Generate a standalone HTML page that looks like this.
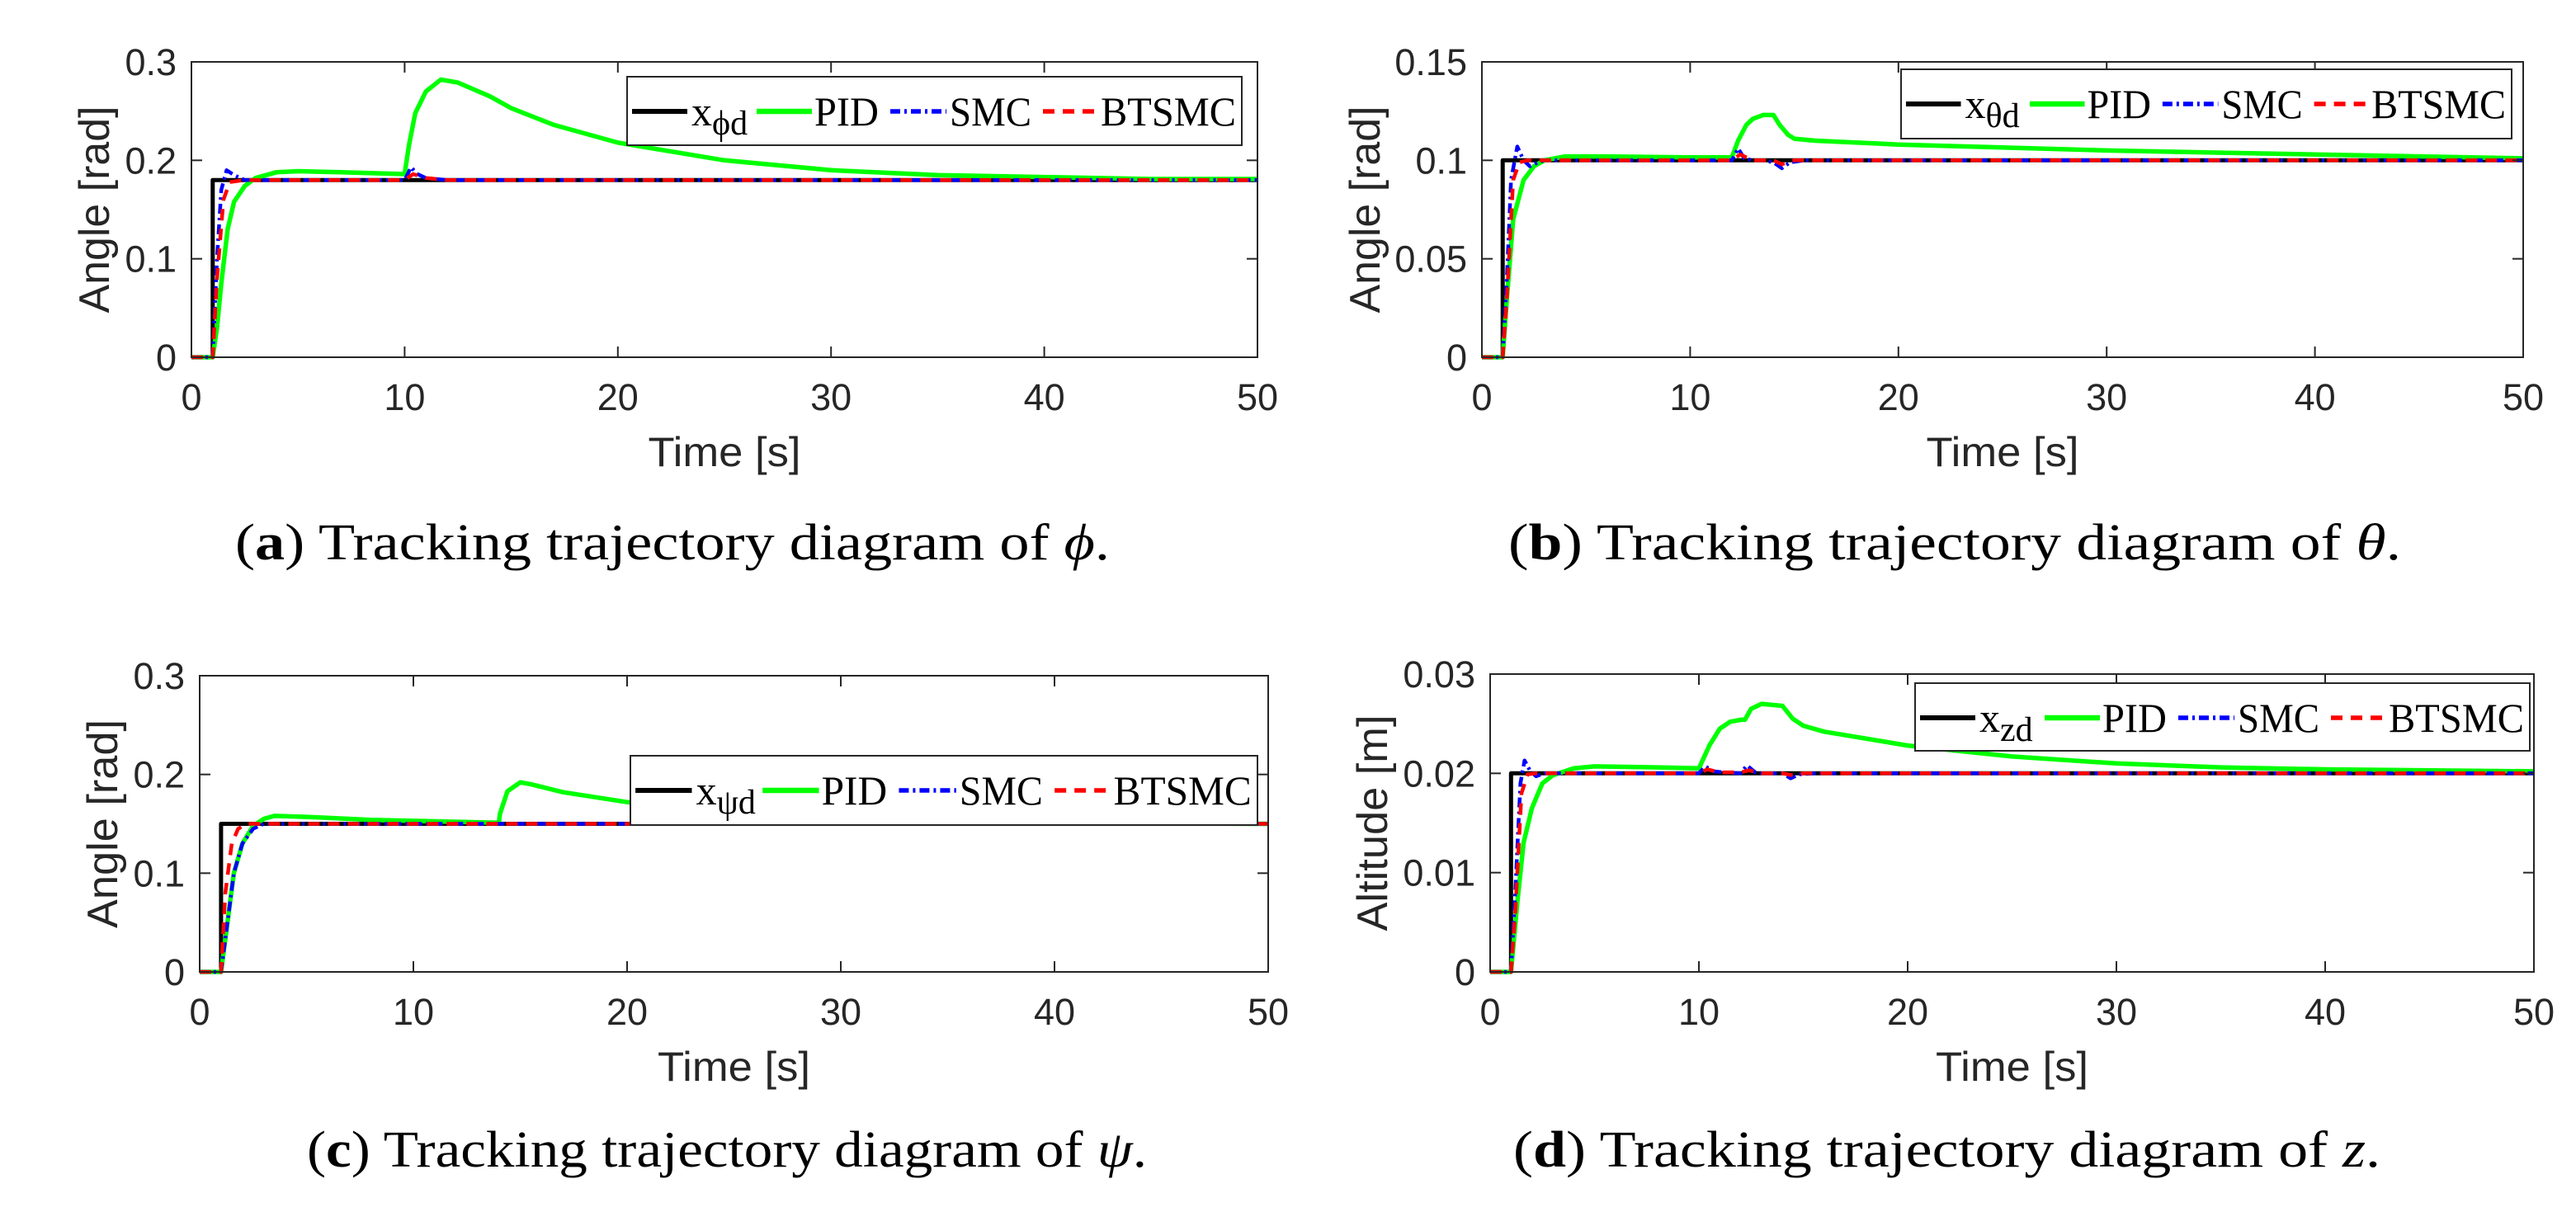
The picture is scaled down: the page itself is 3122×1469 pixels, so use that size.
<!DOCTYPE html>
<html><head><meta charset="utf-8"><style>
html,body{margin:0;padding:0;background:#fff;}
svg{display:block;}
</style></head><body>
<svg id="fig" xmlns="http://www.w3.org/2000/svg" width="3122" height="1469" viewBox="0 0 3122 1469"></svg>
<script>
// ---- data (time arrays and value arrays per panel/series) ----
const xTicks = [0,10,20,30,40,50];
const yTicksA = [0,0.1,0.2,0.3];
const yTicksB = [0,0.05,0.1,0.15];
const yTicksC = [0,0.1,0.2,0.3];
const yTicksD = [0,0.01,0.02,0.03];
const yTickLabelsA = ["0","0.1","0.2","0.3"];
const yTickLabelsB = ["0","0.05","0.1","0.15"];
const yTickLabelsC = ["0","0.1","0.2","0.3"];
const yTickLabelsD = ["0","0.01","0.02","0.03"];

const refTA = [0,1,1,50];            const refVA = [0,0,0.18,0.18];
const pidTA = [0,1,1.2,1.4,1.7,2,2.5,3,4,5,7,10,10.2,10.5,11,11.7,12.5,14,15,17,20,25,30,35,40,45,50];
const pidVA = [0,0,0.03,0.075,0.13,0.158,0.174,0.182,0.188,0.189,0.188,0.186,0.215,0.248,0.27,0.282,0.279,0.265,0.253,0.236,0.218,0.2,0.19,0.185,0.183,0.181,0.181];
const smcTA = [0,1,1.2,1.4,1.65,2,2.5,3,10,10.3,10.6,11,12,50];
const smcVA = [0,0,0.1,0.17,0.19,0.185,0.18,0.18,0.18,0.193,0.186,0.182,0.18,0.18];
const btTA = [0,1,1.2,1.5,1.8,2.5,10,10.4,11,12,50];
const btVA = [0,0,0.08,0.16,0.178,0.18,0.18,0.186,0.182,0.18,0.18];

const refTB = [0,1,1,50];            const refVB = [0,0,0.1,0.1];
const pidTB = [0,1,1.2,1.5,2,2.5,3,4,6,10,12,12.3,12.7,13,13.5,14,14.3,14.7,15,16,20,30,40,50];
const pidVB = [0,0,0.03,0.07,0.09,0.097,0.1,0.102,0.102,0.1015,0.1015,0.11,0.118,0.121,0.123,0.123,0.118,0.113,0.111,0.110,0.108,0.105,0.103,0.101];
const smcTB = [0,1,1.2,1.4,1.7,2,2.3,2.7,3,12,12.3,12.6,13,13.5,14,14.4,14.8,15.5,50];
const smcVB = [0,0,0.04,0.09,0.107,0.1,0.097,0.099,0.1,0.1,0.106,0.101,0.1,0.1,0.099,0.096,0.099,0.1,0.1];
const btTB = [0,1,1.2,1.5,1.8,2.2,12,12.4,13,14,14.4,15,50];
const btVB = [0,0,0.03,0.09,0.099,0.1,0.1,0.103,0.1,0.1,0.098,0.1,0.1];

const refTC = [0,1,1,50];            const refVC = [0,0,0.15,0.15];
const pidTC = [0,1,1.3,1.6,2,2.5,3,3.5,5,8,10,14,14.05,14.4,15,15.5,17,20,25,30,35,40,50];
const pidVC = [0,0,0.05,0.1,0.13,0.148,0.155,0.158,0.157,0.154,0.153,0.151,0.16,0.183,0.192,0.19,0.182,0.172,0.161,0.155,0.152,0.151,0.15];
const smcTC = [0,1,1.3,1.6,2,2.5,3,50];
const smcVC = [0,0,0.05,0.1,0.13,0.145,0.15,0.15];
const btTC = [0,1,1.2,1.5,1.8,2.2,50];
const btVC = [0,0,0.08,0.13,0.145,0.15,0.15];

const refTD = [0,1,1,50];            const refVD = [0,0,0.02,0.02];
const pidTD = [0,1,1.3,1.6,2,2.5,3,4,5,8,10,10.5,11,11.5,12,12.2,12.5,13,14,14.5,15,16,20,25,30,35,40,50];
const pidVD = [0,0,0.007,0.013,0.0165,0.019,0.0198,0.0205,0.0207,0.0206,0.0205,0.0228,0.0245,0.0252,0.0254,0.0254,0.0265,0.027,0.0268,0.0255,0.0248,0.0242,0.0228,0.0217,0.021,0.0206,0.0204,0.0202];
const smcTD = [0,1,1.2,1.45,1.65,1.9,2.2,2.6,10,10.3,10.7,11.2,12,12.3,12.7,13,14,14.4,14.8,15.5,50];
const smcVD = [0,0,0.008,0.019,0.0213,0.0203,0.0197,0.02,0.02,0.0207,0.0202,0.0201,0.02,0.0208,0.0201,0.02,0.02,0.0195,0.0199,0.02,0.02];
const btTD = [0,1,1.2,1.5,1.8,2.2,10,10.4,11,12,12.4,13,14,14.5,15,50];
const btVD = [0,0,0.006,0.018,0.0199,0.02,0.02,0.0204,0.0201,0.0201,0.0203,0.02,0.02,0.0198,0.02,0.02];

const NS = "http://www.w3.org/2000/svg";
const svg = document.getElementById('fig');
function mk(tag, attrs, parent){
  const e = document.createElementNS(NS, tag);
  for (const k in attrs) e.setAttribute(k, attrs[k]);
  (parent||svg).appendChild(e);
  return e;
}

const panels = [
 {id:'a', L:232, R:1524, T:75, B:433, ymax:0.3, yt:yTicksA, ytl:yTickLabelsA, ylab:'Angle [rad]', ylabX:132, ylabLen:251,
  leg:{x:760,y:93,w:745,h:83}, sub:'\u03D5d', cap:['a',' Tracking trajectory diagram of ','\u03D5','.'], capX:285, capW:1060, capY:678,
  s:[[refTA,refVA],[pidTA,pidVA],[smcTA,smcVA],[btTA,btVA]]},
 {id:'b', L:1796, R:3058, T:75, B:433, ymax:0.15, yt:yTicksB, ytl:yTickLabelsB, ylab:'Angle [rad]', ylabX:1672, ylabLen:251,
  leg:{x:2304,y:84,w:740,h:84}, sub:'\u03B8d', cap:['b',' Tracking trajectory diagram of ','\u03B8','.'], capX:1828, capW:1082, capY:678,
  s:[[refTB,refVB],[pidTB,pidVB],[smcTB,smcVB],[btTB,btVB]]},
 {id:'c', L:242, R:1537, T:819, B:1178, ymax:0.3, yt:yTicksC, ytl:yTickLabelsC, ylab:'Angle [rad]', ylabX:142, ylabLen:253,
  leg:{x:764,y:916,w:760,h:84}, sub:'\u03C8d', cap:['c',' Tracking trajectory diagram of ','\u03C8','.'], capX:372, capW:1018, capY:1414,
  s:[[refTC,refVC],[pidTC,pidVC],[smcTC,smcVC],[btTC,btVC]]},
 {id:'d', L:1806, R:3071, T:817, B:1178, ymax:0.03, yt:yTicksD, ytl:yTickLabelsD, ylab:'Altitude [m]', ylabX:1681, ylabLen:262,
  leg:{x:2321,y:828,w:745,h:82}, sub:'zd', cap:['d',' Tracking trajectory diagram of ','z','.'], capX:1834, capW:1051, capY:1414,
  s:[[refTD,refVD],[pidTD,pidVD],[smcTD,smcVD],[btTD,btVD]]}
];
const styles = [
  {name:'reference', stroke:'#000000', w:5, dash:null},
  {name:'pid', stroke:'#00ff00', w:5.5, dash:null},
  {name:'smc', stroke:'#0000ff', w:4.5, dash:'12,5,3,5'},
  {name:'btsmc', stroke:'#ff0000', w:4.5, dash:'14,10'}
];
const legNames = ['x','PID','SMC','BTSMC'];

panels.forEach(p=>{
  const g = mk('g',{});
  
  
  const sx = t => p.L + (t/50)*(p.R-p.L);
  const sy = v => p.B - (v/p.ymax)*(p.B-p.T);
  mk('rect',{x:p.L,y:p.T,width:p.R-p.L,height:p.B-p.T,fill:'#fff'},g);
  const cp = mk('clipPath',{id:'clip'+p.id},g);
  mk('rect',{x:p.L,y:p.T-4,width:p.R-p.L+3,height:p.B-p.T+8},cp);
  p.s.forEach((sr,i)=>{
    const st = styles[i];
    let d='';
    sr[0].forEach((t,k)=>{ d += (k?'L':'M') + sx(t).toFixed(1)+','+sy(sr[1][k]).toFixed(1); });
    const path = mk('path',{d:d,fill:'none',stroke:st.stroke,'stroke-width':st.w,'stroke-linejoin':'round','clip-path':'url(#clip'+p.id+')'},g);
    if (st.dash) path.setAttribute('stroke-dasharray', st.dash);
    
    
  });
  const fr = mk('rect',{x:p.L,y:p.T,width:p.R-p.L,height:p.B-p.T,fill:'none',stroke:'#262626','stroke-width':2},g);
  
  
  xTicks.forEach(t=>{
    const x = sx(t);
    mk('line',{x1:x,y1:p.B,x2:x,y2:p.B-13,stroke:'#262626','stroke-width':2},g);
    mk('line',{x1:x,y1:p.T,x2:x,y2:p.T+13,stroke:'#262626','stroke-width':2},g);
    const tx = mk('text',{x:x,y:p.B+64,'text-anchor':'middle','font-family':'Liberation Sans, sans-serif','font-size':45,fill:'#262626'},g);
    tx.textContent = String(t);
    
    
  });
  p.yt.forEach((v,k)=>{
    const y = sy(v);
    mk('line',{x1:p.L,y1:y,x2:p.L+13,y2:y,stroke:'#262626','stroke-width':2},g);
    mk('line',{x1:p.R,y1:y,x2:p.R-13,y2:y,stroke:'#262626','stroke-width':2},g);
    const ty = mk('text',{x:p.L-18,y:y+16,'text-anchor':'end','font-family':'Liberation Sans, sans-serif','font-size':45,fill:'#262626'},g);
    ty.textContent = p.ytl[k];
    
    
  });
  const xt = mk('text',{x:(p.L+p.R)/2,y:p.B+132,'text-anchor':'middle','font-family':'Liberation Sans, sans-serif','font-size':50,fill:'#262626',textLength:185,lengthAdjust:'spacingAndGlyphs'},g);
  xt.textContent = 'Time [s]';
  
  
  const cy = (p.T+p.B)/2;
  const yt = mk('text',{x:p.ylabX,y:cy,'text-anchor':'middle','font-family':'Liberation Sans, sans-serif','font-size':52,fill:'#262626',transform:'rotate(-90 '+p.ylabX+' '+cy+')',textLength:p.ylabLen,lengthAdjust:'spacingAndGlyphs'},g);
  yt.textContent = p.ylab;
  
  
  const lg = mk('g',{},g);
  
  
  const L = p.leg;
  mk('rect',{x:L.x,y:L.y,width:L.w,height:L.h,fill:'#fff',stroke:'#262626','stroke-width':2},lg);
  const sc = L.w/745;
  const ly = L.y + 42;
  const by = L.y + 59;
  const lines = [[6,73],[157,224],[319,387],[504,571]];
  const texts = [[78,0],[227,78],[391,99],[574,164]];
  lines.forEach((ln,i)=>{
    const st = styles[i];
    const e = mk('line',{x1:L.x+ln[0]*sc,y1:ly,x2:L.x+ln[1]*sc,y2:ly,stroke:st.stroke,'stroke-width':st.w+1},lg);
    if (st.dash) e.setAttribute('stroke-dasharray', st.dash);
    
    
    const tx = mk('text',{x:L.x+texts[i][0]*sc,y:by,'font-family':'Liberation Serif, serif','font-size':50,fill:'#000'},lg);
    if (i===0){
      tx.textContent = 'x';
      const sub = mk('tspan',{dy:11,'font-size':42},tx);
      sub.textContent = p.sub;
    } else {
      tx.setAttribute('textLength', texts[i][1]*sc);
      tx.setAttribute('lengthAdjust','spacingAndGlyphs');
      tx.textContent = legNames[i];
    }
    
    
  });
  const cap = mk('text',{x:p.capX,y:p.capY,'font-family':'Liberation Serif, serif','font-size':62,fill:'#000',textLength:p.capW,lengthAdjust:'spacingAndGlyphs'},g);
  const t1 = mk('tspan',{},cap); t1.textContent='(';
  const t2 = mk('tspan',{'font-weight':'bold'},cap); t2.textContent=p.cap[0];
  const t3 = mk('tspan',{},cap); t3.textContent=')'+p.cap[1];
  const t4 = mk('tspan',{'font-style':'italic'},cap); t4.textContent=p.cap[2];
  const t5 = mk('tspan',{},cap); t5.textContent=p.cap[3];
  
  
});
</script>
</body></html>
